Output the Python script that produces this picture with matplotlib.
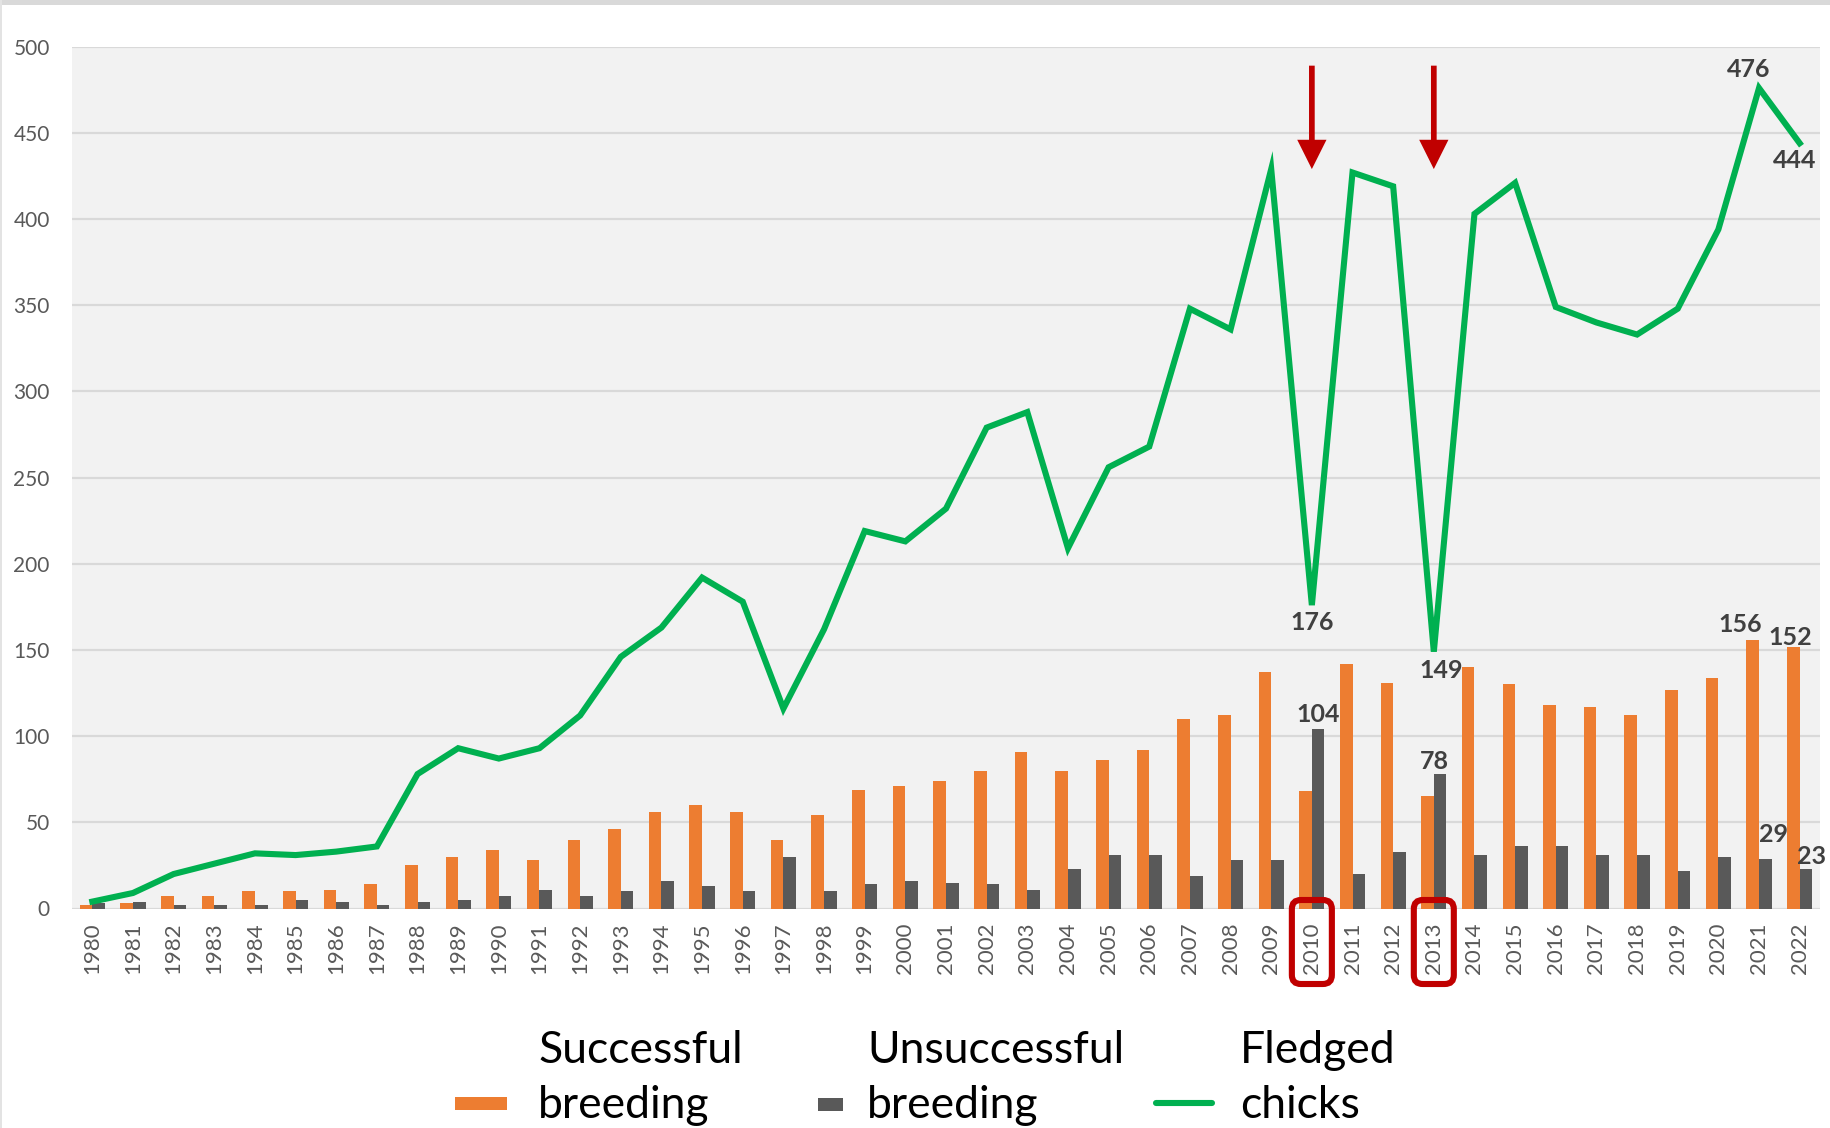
import numpy as np
import matplotlib
matplotlib.use("Agg")
import matplotlib.pyplot as plt
from matplotlib.patches import FancyBboxPatch, Rectangle
from matplotlib.lines import Line2D
from matplotlib.transforms import IdentityTransform

plt.rcParams['font.family'] = ['Lato', 'DejaVu Sans']

years = list(range(1980, 2023))
successful = [2, 3, 7, 7, 10, 10, 11, 14, 25, 30, 34, 28,
              40, 46, 56, 60, 56, 40, 54, 69, 71, 74, 80, 91,
              80, 86, 92, 110, 112, 137, 68, 142, 131, 65, 140,
              130, 118, 117, 112, 127, 134, 156, 152]
unsuccessful = [3, 4, 2, 2, 2, 5, 4, 2, 4, 5, 7, 11,
                7, 10, 16, 13, 10, 30, 10, 14, 16, 15, 14, 11,
                23, 31, 31, 19, 28, 28, 104, 20, 33, 78, 31,
                36, 36, 31, 31, 22, 30, 29, 23]
fledged = [4, 9, 20, 26, 32, 31, 33, 36, 78, 93, 87, 93,
           112, 146, 163, 192, 178, 116, 162, 219, 213, 232, 279, 288,
           209, 256, 268, 348, 336, 429, 176, 427, 419, 149, 403,
           421, 349, 340, 333, 348, 394, 476, 444]
marked_years = [2010, 2013]

ORANGE = '#ED7D31'
GRAY = '#595959'
GREEN = '#00B050'
RED = '#C00000'
LABEL = '#404040'

W, H = 1831, 1128
fig = plt.figure(figsize=(W / 100, H / 100), dpi=100)
ax = fig.add_axes([72 / W, 1 - 908.5 / H, (1820 - 72) / W, (908.5 - 46.7) / H])
ax.set_facecolor('#F2F2F2')

x = np.arange(len(years))
bw = 0.31
ax.bar(x - bw / 2, successful, bw, color=ORANGE, zorder=2)
ax.bar(x + bw / 2, unsuccessful, bw, color=GRAY, zorder=2)
ax.plot(x, fledged, color=GREEN, lw=4.4, solid_joinstyle='miter', zorder=3)

ax.set_xlim(-0.5, len(years) - 0.5)
ax.set_ylim(0, 500)
ax.set_yticks(range(0, 501, 50))
ax.set_xticks(x)
ax.set_xticklabels([str(y) for y in years], rotation=90, fontsize=16, color=GRAY)
ax.tick_params(axis='x', length=0, pad=10)
ax.tick_params(axis='y', length=0, pad=16, labelsize=15, labelcolor=GRAY)
ax.grid(axis='y', color='#D9D9D9', lw=1.6)
ax.set_axisbelow(True)
for s in ax.spines.values():
    s.set_visible(False)

def lab(series, year, dx, dy, va):
    i = years.index(year)
    off = -bw / 2 if series is successful else (bw / 2 if series is unsuccessful else 0)
    ax.annotate(str(series[i]), (i + off, series[i]), xytext=(dx, dy),
                textcoords='offset pixels', ha='center', va=va,
                fontsize=18, fontweight='bold', color=LABEL, zorder=5)

lab(fledged, 2010, 0, -6, 'top')
lab(fledged, 2013, 7, -7, 'top')
lab(fledged, 2021, -10, 11, 'baseline')
lab(fledged, 2022, -5, -6, 'top')
lab(unsuccessful, 2010, 0, 7, 'baseline')
lab(unsuccessful, 2013, -6, 5, 'baseline')
lab(successful, 2021, -12, 8, 'baseline')
lab(successful, 2022, -3, 2, 'baseline')
lab(unsuccessful, 2021, 8, 17, 'baseline')
lab(unsuccessful, 2022, 6, 5, 'baseline')

# red arrows and boxes
for yr in marked_years:
    i = years.index(yr)
    ax.arrow(i, 489, 0, -60, width=0.14, head_width=0.72, head_length=17,
             length_includes_head=True, fc=RED, ec='none', zorder=6)
    px = ax.transData.transform((i, 0))[0]
    box = FancyBboxPatch((px - 20, H - 984), 40, 84,
                         boxstyle='round,pad=0,rounding_size=9',
                         transform=IdentityTransform(), fill=False,
                         ec=RED, lw=4.4, clip_on=False)
    fig.patches.append(box)

# frame bits
fig.patches.append(Rectangle((0, 1 - 5 / H), 1, 5 / H, transform=fig.transFigure,
                             color='#D9D9D9', lw=0))
fig.patches.append(Rectangle((0, 0), 2 / W, 1, transform=fig.transFigure,
                             color='#E3E3E3', lw=0))

# legend
def fy(py):
    return 1 - py / H

leg_font = 32
fig.patches.append(Rectangle((455 / W, fy(1110)), 52 / W, 13 / H,
                             transform=fig.transFigure, color=ORANGE, lw=0))
fig.patches.append(Rectangle((818 / W, fy(1111)), 25 / W, 13 / H,
                             transform=fig.transFigure, color=GRAY, lw=0))
fig.lines.append(Line2D([1156 / W, 1212 / W], [fy(1103), fy(1103)],
                        transform=fig.transFigure, color=GREEN, lw=4.4,
                        solid_capstyle='round'))
for xl, l1, l2 in [(538, 'Successful', 'breeding'),
                   (867, 'Unsuccessful', 'breeding'),
                   (1240, 'Fledged', 'chicks')]:
    fig.text(xl / W, fy(1063), l1, fontsize=leg_font, va='baseline', ha='left', color='black')
    fig.text(xl / W, fy(1118), l2, fontsize=leg_font, va='baseline', ha='left', color='black')

fig.savefig('out.png', dpi=100, facecolor='white')
